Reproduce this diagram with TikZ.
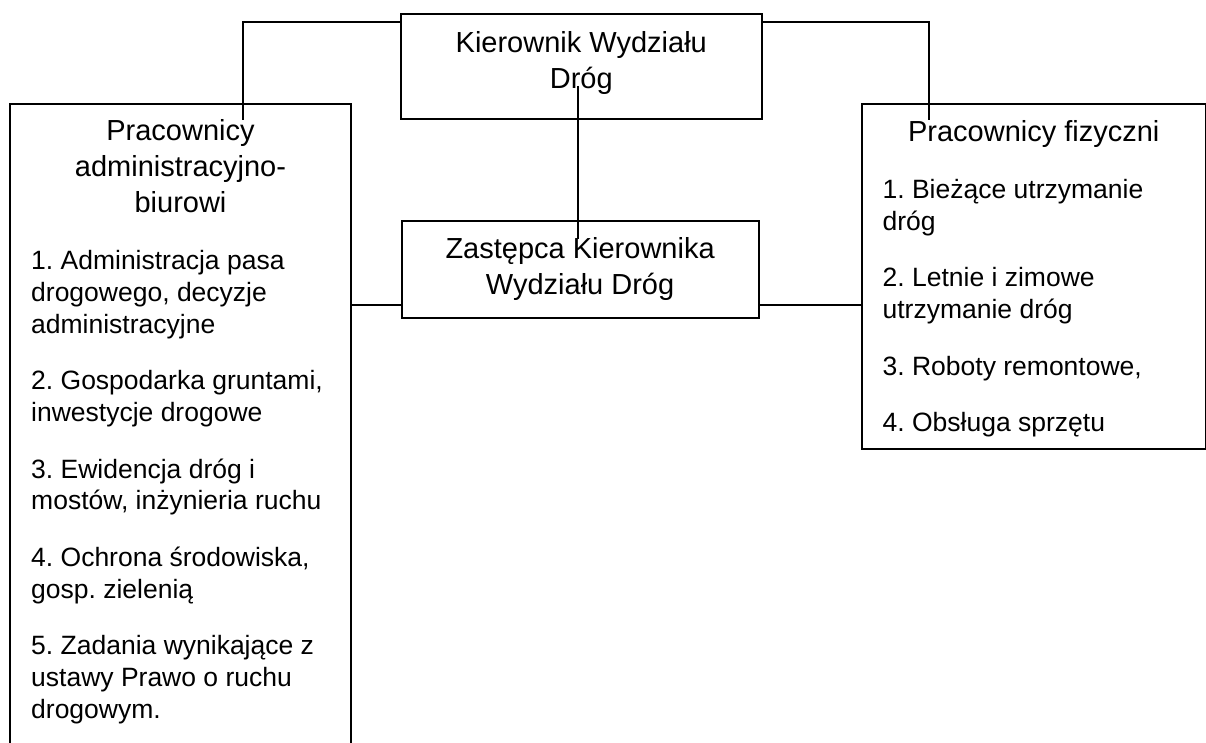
\documentclass[tikz,border=0pt]{standalone}
\usepackage{fontspec}
\setmainfont{Liberation Sans}
\usetikzlibrary{calc}
\frenchspacing

\newcommand{\bigsize}{\fontsize{29}{36}\selectfont}
\newcommand{\smallsize}{\fontsize{26.5}{31.7}\selectfont}

\tikzset{
  orgbox/.style={draw, line width=1.8pt, inner sep=0pt, align=center, font=\bigsize, anchor=north west},
  listbox/.style={draw, line width=1.8pt, inner xsep=21pt, inner ysep=0pt, anchor=north west},
  link/.style={line width=1.8pt}
}

\begin{document}
\begin{tikzpicture}[x=1pt,y=-1pt]
  \useasboundingbox (0,0) rectangle (1206,742);
  \clip (0,0) rectangle (1206,742);

  % kierownictwo
  \node[orgbox, minimum width=360.7pt, minimum height=105pt] (kier) at (400,13.3)
    {Kierownik Wydziału\\ Dróg\rule[-13pt]{0pt}{1pt}};
  \node[orgbox, minimum width=357pt, minimum height=96.7pt] (zast) at (400.7,220)
    {Zastępca Kierownika\\ Wydziału Dróg};

  % pracownicy
  \node[listbox] (admin) at (9.3,102.7) {\parbox[t][680pt][t]{298.6pt}{%
    \bigsize\centering\rule{0pt}{37.3pt}Pracownicy\\ administracyjno-\\ biurowi\setlength{\parskip}{25pt}\par
    \smallsize\raggedright
    1. Administracja pasa\\ drogowego, decyzje\\ administracyjne\par
    2. Gospodarka gruntami,\\ inwestycje drogowe\par
    3. Ewidencja dróg i\\ mostów, inżynieria ruchu\par
    4. Ochrona środowiska,\\ gosp. zielenią\par
    5. Zadania wynikające z\\ ustawy Prawo o ruchu\\ drogowym.\par}};
  \node[listbox] (fiz) at (860.7,102.7) {\parbox[t][345.6pt][t]{302.3pt}{%
    \bigsize\centering\rule{0pt}{38pt}Pracownicy fizyczni\setlength{\parskip}{25pt}\par
    \smallsize\raggedright
    1. Bieżące utrzymanie\\ dróg\par
    2. Letnie i zimowe\\ utrzymanie dróg\par
    3. Roboty remontowe,\par
    4. Obsługa sprzętu\par}};

  % polaczenia
  \draw[link] ([shift={(0,8.4)}]kier.north west) -| ([shift={(233.4,17.3)}]admin.north west);
  \draw[link] ([shift={(0,8.4)}]kier.north east) -| ([shift={(68.6,17.3)}]fiz.north west);
  \coordinate (kzb) at ([shift={(0,19)}]zast.north);
  \draw[link] ([shift={(-3,19.2)}]kier.center) coordinate (kzt) -- (kzt |- kzb);
  \coordinate (zl) at ([shift={(0,-13.4)}]zast.south west);
  \coordinate (zr) at ([shift={(0,-13.4)}]zast.south east);
  \draw[link] (zl) -- (admin.east |- zl);
  \draw[link] (zr) -- (fiz.west |- zr);
\end{tikzpicture}
\end{document}
